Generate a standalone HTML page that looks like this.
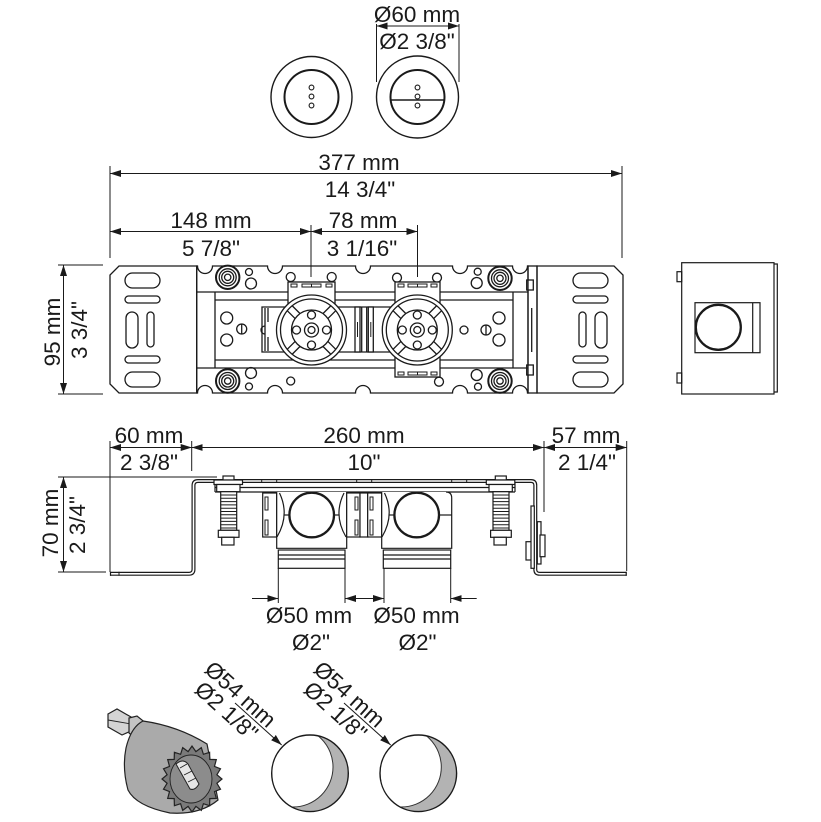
<!DOCTYPE html>
<html><head><meta charset="utf-8">
<style>
html,body{margin:0;padding:0;background:#fff;}
svg{display:block;}
text{font-family:"Liberation Sans",Arial,sans-serif;font-size:22.5px;fill:#1a1a1a;}
</style></head>
<body>
<svg width="821" height="822" viewBox="0 0 821 822" xmlns="http://www.w3.org/2000/svg">
<defs>
<marker id="ar" markerWidth="11" markerHeight="8" refX="11" refY="4" orient="auto-start-reverse" markerUnits="userSpaceOnUse"><path d="M0,0.5 L11,4 L0,7.5 z" fill="#1a1a1a"/></marker>
<clipPath id="c1"><circle cx="310" cy="773.3" r="38.3"/></clipPath>
<clipPath id="c2"><circle cx="418.3" cy="773.3" r="38.3"/></clipPath>
</defs>
<rect width="821" height="822" fill="#fff"/>

<!-- ============ DIMENSION LINES ============ -->
<g stroke="#1a1a1a" stroke-width="1" fill="none">
  <line x1="376.5" y1="26" x2="459" y2="26" marker-start="url(#ar)" marker-end="url(#ar)"/>
  <line x1="376.5" y1="24" x2="376.5" y2="82"/>
  <line x1="459" y1="24" x2="459" y2="82"/>
  <line x1="110" y1="173.5" x2="622" y2="173.5" marker-start="url(#ar)" marker-end="url(#ar)"/>
  <line x1="110" y1="166" x2="110" y2="258"/>
  <line x1="622" y1="166" x2="622" y2="258"/>
  <line x1="110" y1="231.5" x2="311" y2="231.5" marker-start="url(#ar)" marker-end="url(#ar)"/>
  <line x1="311" y1="231.5" x2="417.5" y2="231.5" marker-start="url(#ar)" marker-end="url(#ar)"/>
  <line x1="311" y1="225" x2="311" y2="277"/>
  <line x1="417.5" y1="225" x2="417.5" y2="277"/>
  <line x1="63.5" y1="265" x2="63.5" y2="394" marker-start="url(#ar)" marker-end="url(#ar)"/>
  <line x1="58" y1="265" x2="103" y2="265"/>
  <line x1="58" y1="394" x2="103" y2="394"/>
  <line x1="110" y1="447.5" x2="191.7" y2="447.5" marker-start="url(#ar)" marker-end="url(#ar)"/>
  <line x1="191.7" y1="447.5" x2="544" y2="447.5" marker-start="url(#ar)" marker-end="url(#ar)"/>
  <line x1="544" y1="447.5" x2="626.7" y2="447.5" marker-start="url(#ar)" marker-end="url(#ar)"/>
  <line x1="110" y1="441" x2="110" y2="572"/>
  <line x1="191.7" y1="441" x2="191.7" y2="471"/>
  <line x1="544" y1="441" x2="544" y2="512"/>
  <line x1="626.7" y1="441" x2="626.7" y2="571"/>
  <line x1="63.5" y1="477" x2="63.5" y2="572" marker-start="url(#ar)" marker-end="url(#ar)"/>
  <line x1="58" y1="477" x2="217" y2="477"/>
  <line x1="58" y1="572" x2="106" y2="572"/>
  <line x1="278.3" y1="568" x2="278.3" y2="603"/>
  <line x1="345" y1="568" x2="345" y2="603"/>
  <line x1="384" y1="568" x2="384" y2="603"/>
  <line x1="450.7" y1="568" x2="450.7" y2="603"/>
  <line x1="252" y1="598.5" x2="278.3" y2="598.5" marker-end="url(#ar)"/>
  <line x1="345" y1="598.5" x2="384" y2="598.5" marker-start="url(#ar)" marker-end="url(#ar)"/>
  <line x1="476.7" y1="598.5" x2="450.7" y2="598.5" marker-end="url(#ar)"/>
</g>

<!-- ============ DIMENSION TEXT ============ -->
<g text-anchor="middle">
  <text x="417" y="22">Ø60 mm</text>
  <text x="417" y="49">Ø2 3/8"</text>
  <text x="359" y="170">377 mm</text>
  <text x="360" y="197">14 3/4"</text>
  <text x="211" y="228">148 mm</text>
  <text x="211" y="256">5 7/8"</text>
  <text x="363" y="228">78 mm</text>
  <text x="362" y="256">3 1/16"</text>
  <text transform="translate(60,332) rotate(-90)">95 mm</text>
  <text transform="translate(87,330) rotate(-90)">3 3/4"</text>
  <text x="149" y="443">60 mm</text>
  <text x="149" y="470">2 3/8"</text>
  <text x="364" y="443">260 mm</text>
  <text x="364" y="470">10"</text>
  <text x="586" y="443">57 mm</text>
  <text x="587" y="470">2 1/4"</text>
  <text transform="translate(58,523) rotate(-90)">70 mm</text>
  <text transform="translate(85,525) rotate(-90)">2 3/4"</text>
  <text x="309" y="623">Ø50 mm</text>
  <text x="311" y="650">Ø2"</text>
  <text x="416.5" y="623">Ø50 mm</text>
  <text x="417.5" y="650">Ø2"</text>
</g>

<!-- ============ TOP COVERS ============ -->
<g stroke="#1a1a1a" stroke-width="1.4" fill="none">
  <circle cx="311.5" cy="97" r="40.5"/>
  <circle cx="311.5" cy="97" r="27" stroke-width="2"/>
  <circle cx="311.5" cy="87.5" r="2.4" stroke-width="1.1"/>
  <circle cx="311.5" cy="96.5" r="2.4" stroke-width="1.1"/>
  <circle cx="311.5" cy="105.5" r="2.4" stroke-width="1.1"/>
  <circle cx="417.5" cy="97" r="41"/>
  <circle cx="417.5" cy="97" r="27" stroke-width="2"/>
  <line x1="391" y1="100" x2="444" y2="100"/>
  <circle cx="417.5" cy="87.5" r="2.4" stroke-width="1.1"/>
  <circle cx="417.5" cy="96.5" r="2.4" stroke-width="1.1" fill="#fff"/>
  <circle cx="417.5" cy="105.5" r="2.4" stroke-width="1.1"/>
</g>

<!-- ============ FRONT VIEW ============ -->
<g stroke="#1a1a1a" stroke-width="1.3" fill="none">
  <path d="M119 266 H196.7 V393 H119 L110 384 V275 Z"/>
  <g>
    <rect x="125" y="273" width="35" height="15" rx="7.5"/>
    <rect x="125" y="296" width="35" height="7" rx="3.5"/>
    <rect x="126" y="312" width="12" height="36" rx="6"/>
    <rect x="147" y="312" width="7" height="35" rx="3.5"/>
    <rect x="125" y="356" width="35" height="7" rx="3.5"/>
    <rect x="125" y="372" width="35" height="15" rx="7.5"/>
  </g>
  <path d="M537 266 H614 L623 275 V384 L614 393 H537 Z"/>
  <g transform="translate(733,0) scale(-1,1)">
    <rect x="125" y="273" width="35" height="15" rx="7.5"/>
    <rect x="125" y="296" width="35" height="7" rx="3.5"/>
    <rect x="126" y="312" width="12" height="36" rx="6"/>
    <rect x="147" y="312" width="7" height="35" rx="3.5"/>
    <rect x="125" y="356" width="35" height="7" rx="3.5"/>
    <rect x="125" y="372" width="35" height="15" rx="7.5"/>
  </g>
  <rect x="528" y="266" width="9" height="127"/>
  <rect x="526.7" y="280" width="6.6" height="10" fill="#fff"/>
  <rect x="526.7" y="365" width="6.6" height="10" fill="#fff"/>
  <line x1="531.7" y1="308" x2="531.7" y2="352"/>

  <path d="M196.7,266 H197.5 A7.5,7.5 0 0 0 212.5,266 H267.5 A7.5,7.5 0 0 0 282.5,266 H355.5 A7.5,7.5 0 0 0 370.5,266 H452.5 A7.5,7.5 0 0 0 467.5,266 H512.5 A7.5,7.5 0 0 0 527.5,266 H528 V393 H527.5 A7.5,7.5 0 0 0 512.5,393 H467.5 A7.5,7.5 0 0 0 452.5,393 H370.5 A7.5,7.5 0 0 0 355.5,393 H282.5 A7.5,7.5 0 0 0 267.5,393 H212.5 A7.5,7.5 0 0 0 197.5,393 H196.7 Z"/>
  <line x1="196.7" y1="292" x2="528" y2="292"/>
  <line x1="196.7" y1="368" x2="528" y2="368"/>
  <line x1="215" y1="300" x2="513" y2="300"/>
  <line x1="215" y1="360" x2="513" y2="360"/>
  <line x1="215" y1="292" x2="215" y2="368"/>
  <line x1="513" y1="292" x2="513" y2="368"/>
  <path d="M395 307 H262 V352 H395"/>
  <line x1="265" y1="308" x2="265" y2="351"/>
  <line x1="268" y1="308" x2="268" y2="322"/>
  <line x1="268" y1="337" x2="268" y2="351"/>
  <path d="M265 326 A4 4 0 0 0 265 334"/>
  <rect x="355" y="307" width="5" height="45" fill="#fff"/>
  <rect x="368.3" y="307" width="5" height="45" fill="#fff"/>
  <line x1="361.7" y1="307" x2="361.7" y2="352"/>
  <line x1="366.7" y1="307" x2="366.7" y2="352"/>
  <line x1="357.5" y1="322" x2="357.5" y2="337" stroke-width="1"/>
  <line x1="370.8" y1="322" x2="370.8" y2="337" stroke-width="1"/>

  <circle cx="226.7" cy="318" r="6"/>
  <circle cx="226.7" cy="340" r="6"/>
  <circle cx="241.7" cy="329" r="5"/>
  <line x1="241.7" y1="324" x2="241.7" y2="334"/>
  <circle cx="249" cy="272" r="3.5"/>
  <circle cx="251" cy="283.5" r="5.5"/>
  <circle cx="251" cy="373" r="5.5"/>
  <circle cx="249" cy="386.5" r="3.5"/>
  <circle cx="290.7" cy="381" r="4"/>
  <circle cx="477.7" cy="271.7" r="3.5"/>
  <circle cx="476.7" cy="283" r="5.5"/>
  <circle cx="499" cy="318" r="6"/>
  <circle cx="464" cy="330" r="4"/>
  <circle cx="486" cy="330" r="5"/>
  <line x1="486" y1="325" x2="486" y2="335"/>
  <circle cx="499" cy="340" r="6"/>
  <circle cx="476.7" cy="375" r="5.5"/>
  <circle cx="478" cy="386.7" r="3.5"/>

  <g fill="#fff">
    <g transform="translate(227.7,277.3)"><circle r="11.7" stroke-width="2"/><circle r="8.5"/><circle r="6"/><circle r="3.2"/></g>
    <g transform="translate(227.7,381)"><circle r="11.7" stroke-width="2"/><circle r="8.5"/><circle r="6"/><circle r="3.2"/></g>
    <g transform="translate(500,278.3)"><circle r="11.7" stroke-width="2"/><circle r="8.5"/><circle r="6"/><circle r="3.2"/></g>
    <g transform="translate(500,381)"><circle r="11.7" stroke-width="2"/><circle r="8.5"/><circle r="6"/><circle r="3.2"/></g>
  </g>

  <g fill="#fff">
    <circle cx="290.7" cy="277" r="4.5"/>
    <circle cx="331.7" cy="277" r="4.5"/>
    <circle cx="397" cy="277.7" r="4.5"/>
    <circle cx="437" cy="277.7" r="4.5"/>
    <circle cx="439" cy="381.7" r="4.5"/>
    <rect x="288" y="282" width="47" height="40"/>
    <rect x="395" y="282" width="45" height="95"/>
  </g>
  <g stroke-width="1">
    <rect x="291" y="284" width="6" height="3"/>
    <rect x="302" y="284" width="19" height="3"/>
    <line x1="311.5" y1="284" x2="311.5" y2="287"/>
    <rect x="326" y="284" width="6" height="3"/>
    <rect x="398" y="284" width="6" height="3"/>
    <rect x="408" y="284" width="19" height="3"/>
    <line x1="417.5" y1="284" x2="417.5" y2="287"/>
    <rect x="431" y="284" width="6" height="3"/>
    <rect x="398" y="372" width="6" height="3"/>
    <rect x="408" y="372" width="19" height="3"/>
    <line x1="417.5" y1="372" x2="417.5" y2="375"/>
    <rect x="431" y="372" width="6" height="3"/>
  </g>

  <g transform="translate(311.5,330)">
    <circle r="35" fill="#fff"/><circle r="31"/><circle r="20"/><circle r="7"/><circle r="3.5"/>
    <circle cx="-15" r="4"/><circle cx="15" r="4"/><circle cy="-15" r="4"/><circle cy="15" r="4"/>
    <path d="M11.67 16.61L19.45 24.39M16.61 11.67L24.39 19.45M-11.67 16.61L-19.45 24.39M-16.61 11.67L-24.39 19.45M-11.67 -16.61L-19.45 -24.39M-16.61 -11.67L-24.39 -19.45M11.67 -16.61L19.45 -24.39M16.61 -11.67L24.39 -19.45"/>
  </g>
  <g transform="translate(417.3,330)">
    <circle r="35" fill="#fff"/><circle r="31"/><circle r="20"/><circle r="7"/><circle r="3.5"/>
    <circle cx="-15" r="4"/><circle cx="15" r="4"/><circle cy="-15" r="4"/><circle cy="15" r="4"/>
    <path d="M11.67 16.61L19.45 24.39M16.61 11.67L24.39 19.45M-11.67 16.61L-19.45 24.39M-16.61 11.67L-24.39 19.45M-11.67 -16.61L-19.45 -24.39M-16.61 -11.67L-24.39 -19.45M11.67 -16.61L19.45 -24.39M16.61 -11.67L24.39 -19.45"/>
  </g>
</g>

<!-- ============ SIDE VIEW ============ -->
<g stroke="#1a1a1a" stroke-width="1.2" fill="none">
  <rect x="681.7" y="262.7" width="92.3" height="131.3"/>
  <path d="M774 264 H777.3 V392 H774"/>
  <rect x="677" y="271.7" width="4.7" height="10"/>
  <rect x="677" y="373" width="4.7" height="10"/>
  <rect x="695" y="302.7" width="65" height="50"/>
  <line x1="752.7" y1="302.7" x2="752.7" y2="352.7"/>
  <circle cx="718.3" cy="327.3" r="22.5" stroke-width="2.3"/>
</g>

<!-- ============ BOTTOM (PLAN) VIEW ============ -->
<g stroke="#1a1a1a" stroke-width="1.2" fill="none">
  <path d="M110 573.8 H189 Q193.5 573.8 193.5 569.3 V485.5 Q193.5 481 198 481 H531 Q535.3 481 535.3 485.3 V569.5 Q535.3 573.8 539.6 573.8 H626.7" stroke-width="4"/>
  <path d="M110 573.8 H189 Q193.5 573.8 193.5 569.3 V485.5 Q193.5 481 198 481 H531 Q535.3 481 535.3 485.3 V569.5 Q535.3 573.8 539.6 573.8 H626.7" stroke="#fff" stroke-width="1.6"/>
  <line x1="110.5" y1="571.8" x2="110.5" y2="575.8"/>
  <line x1="119" y1="571.8" x2="119" y2="575.8" stroke-width="1"/>
  <line x1="626.2" y1="571.8" x2="626.2" y2="575.8"/>
  <path d="M261.7 479V483M276.7 479V483M356.7 479V483M371.7 479V483M451.7 479V483M466.7 479V483" stroke-width="1"/>
  <line x1="215" y1="487.5" x2="515" y2="487.5"/>
  <line x1="215" y1="492" x2="515" y2="492"/>
  <line x1="215" y1="483" x2="215" y2="492"/>
  <line x1="515" y1="483" x2="515" y2="492"/>

  <g fill="#fff">
    <rect x="526" y="541.7" width="5.7" height="18.3"/>
    <rect x="531" y="506" width="3.3" height="62.3"/>
    <rect x="537.3" y="521.7" width="3.7" height="42.3"/>
    <rect x="540" y="535" width="5" height="21.7"/>
  </g>

  <g fill="#fff">
    <rect x="223" y="476" width="11" height="4"/>
    <rect x="214" y="480" width="28.5" height="4.5"/>
    <rect x="216.7" y="484.5" width="23.3" height="7.2"/>
    <rect x="220.7" y="491.7" width="16" height="38.6"/>
    <path d="M220.7 495H236.7M220.7 498.3H236.7M220.7 501.6H236.7M220.7 504.9H236.7M220.7 508.2H236.7M220.7 511.5H236.7M220.7 514.8H236.7M220.7 518.1H236.7M220.7 521.4H236.7M220.7 524.7H236.7M220.7 528H236.7" stroke-width="1"/>
    <rect x="218.3" y="530.3" width="20.7" height="7"/>
    <rect x="221.7" y="537.3" width="12.3" height="7.7"/>
  </g>
  <g transform="translate(272.3,0)" fill="#fff">
    <rect x="223" y="476" width="11" height="4"/>
    <rect x="214" y="480" width="28.5" height="4.5"/>
    <rect x="216.7" y="484.5" width="23.3" height="7.2"/>
    <rect x="220.7" y="491.7" width="16" height="38.6"/>
    <path d="M220.7 495H236.7M220.7 498.3H236.7M220.7 501.6H236.7M220.7 504.9H236.7M220.7 508.2H236.7M220.7 511.5H236.7M220.7 514.8H236.7M220.7 518.1H236.7M220.7 521.4H236.7M220.7 524.7H236.7M220.7 528H236.7" stroke-width="1"/>
    <rect x="218.3" y="530.3" width="20.7" height="7"/>
    <rect x="221.7" y="537.3" width="12.3" height="7.7"/>
  </g>

  <g fill="#fff">
    <rect x="262.7" y="493" width="14" height="44"/>
    <path d="M276.7 492 V548.3 H346.7 V492"/>
    <rect x="346.7" y="493" width="13.3" height="44"/>
    <rect x="360" y="493" width="7.7" height="44"/>
    <rect x="367.7" y="493" width="14" height="44"/>
    <path d="M381.7 492 V548.3 H451.7 V498 Q451.7 492 446 492"/>
  </g>
  <g stroke-width="1">
    <rect x="265" y="497" width="3" height="13"/>
    <rect x="265" y="520" width="3" height="15"/>
    <rect x="355" y="497" width="3" height="13"/>
    <rect x="355" y="520" width="3" height="15"/>
    <rect x="370" y="497" width="3" height="13"/>
    <rect x="370" y="520" width="3" height="15"/>
  </g>
  <path d="M279.5 493 Q290 515 277 537"/>
  <path d="M344 493 Q333 515 346 537"/>
  <path d="M384.5 493 Q395 515 382 537"/>
  <line x1="284" y1="515" x2="290" y2="515"/>
  <line x1="333.5" y1="515" x2="339.5" y2="515"/>
  <line x1="389" y1="515" x2="395" y2="515"/>
  <line x1="438.5" y1="515" x2="451.7" y2="515"/>
  <circle cx="311.7" cy="515" r="22.3" stroke-width="2.3" fill="#fff"/>
  <circle cx="416.7" cy="515" r="22.3" stroke-width="2.3" fill="#fff"/>
  <rect x="278.3" y="550" width="66.7" height="18.3" fill="#fff"/>
  <line x1="278.3" y1="555" x2="345" y2="555"/>
  <line x1="278.3" y1="559" x2="345" y2="559"/>
  <rect x="383.3" y="550" width="67.4" height="18.3" fill="#fff"/>
  <line x1="383.3" y1="555" x2="450.7" y2="555"/>
  <line x1="383.3" y1="559" x2="450.7" y2="559"/>
</g>

<!-- ============ HOLE SAW ============ -->
<g stroke="#222" stroke-width="1.2">
  <polygon points="108,714 117,709 131,717 131,731 122,735 108,727" fill="#d4d4d4"/>
  <line x1="108" y1="720" x2="131" y2="724" stroke-width="0.9"/>
  <polygon points="129,718 137,716 147,724 146,736 137,740 129,733" fill="#c4c4c4"/>
  <path d="M143,721 Q178,726 207,744 L218,800 Q200,815 170,813 Q136,806 128,790 Q122,768 126,748 Q131,727 143,721 Z" fill="#aaaaaa"/>
  <polygon fill="#7a7a7a" points="222,779 216.9,783.3 220.5,789.2 214.5,791.6 216.3,798.4 209.8,798.6 209.6,805.7 203.4,803.7 201.3,810.4 195.9,806.4 192,812 188.1,806.4 182.7,810.4 180.6,803.7 174.4,805.7 174.2,798.6 167.7,798.4 169.5,791.6 163.5,789.2 167.1,783.3 162,779 167.1,774.7 163.5,768.8 169.5,766.4 167.7,759.6 174.2,759.4 174.4,752.3 180.6,754.3 182.7,747.6 188.1,751.6 192,746 195.9,751.6 201.3,747.6 203.4,754.3 209.6,752.3 209.8,759.4 216.3,759.6 214.5,766.4 220.5,768.8 216.9,774.7"/>
  <ellipse cx="191" cy="779" rx="21" ry="24" fill="#8c8c8c" stroke-width="0.9"/>
  <path d="M176,764 Q183,758 188,764 L199,784 Q195,791 190,789 Z" fill="#e6e6e6" stroke-width="1"/>
  <path d="M180,768 L187,764 M184,775 L192,771 M188,782 L196,778" stroke-width="0.9"/>
</g>

<g>
  <circle cx="310" cy="773.3" r="38.3" fill="#b3b3b3"/>
  <circle cx="293" cy="767" r="40" fill="#fff" stroke="#333" stroke-width="1" clip-path="url(#c1)"/>
  <circle cx="310" cy="773.3" r="38.3" fill="none" stroke="#1a1a1a" stroke-width="1.4"/>
  <circle cx="418.3" cy="773.3" r="38.3" fill="#b3b3b3"/>
  <circle cx="401.3" cy="767" r="40" fill="#fff" stroke="#333" stroke-width="1" clip-path="url(#c2)"/>
  <circle cx="418.3" cy="773.3" r="38.3" fill="none" stroke="#1a1a1a" stroke-width="1.4"/>
</g>

<g transform="translate(235,703) rotate(42)">
  <text x="-1.8" y="-2.5" text-anchor="middle">Ø54 mm</text>
  <text x="-1" y="19.3" text-anchor="middle">Ø2 1/8"</text>
  <line x1="0" y1="0" x2="62.8" y2="0" stroke="#1a1a1a" stroke-width="1" marker-end="url(#ar)"/>
</g>
<g transform="translate(344,703) rotate(42)">
  <text x="-1.8" y="-2.5" text-anchor="middle">Ø54 mm</text>
  <text x="-1" y="19.3" text-anchor="middle">Ø2 1/8"</text>
  <line x1="0" y1="0" x2="62.8" y2="0" stroke="#1a1a1a" stroke-width="1" marker-end="url(#ar)"/>
</g>
</svg>
</body></html>
